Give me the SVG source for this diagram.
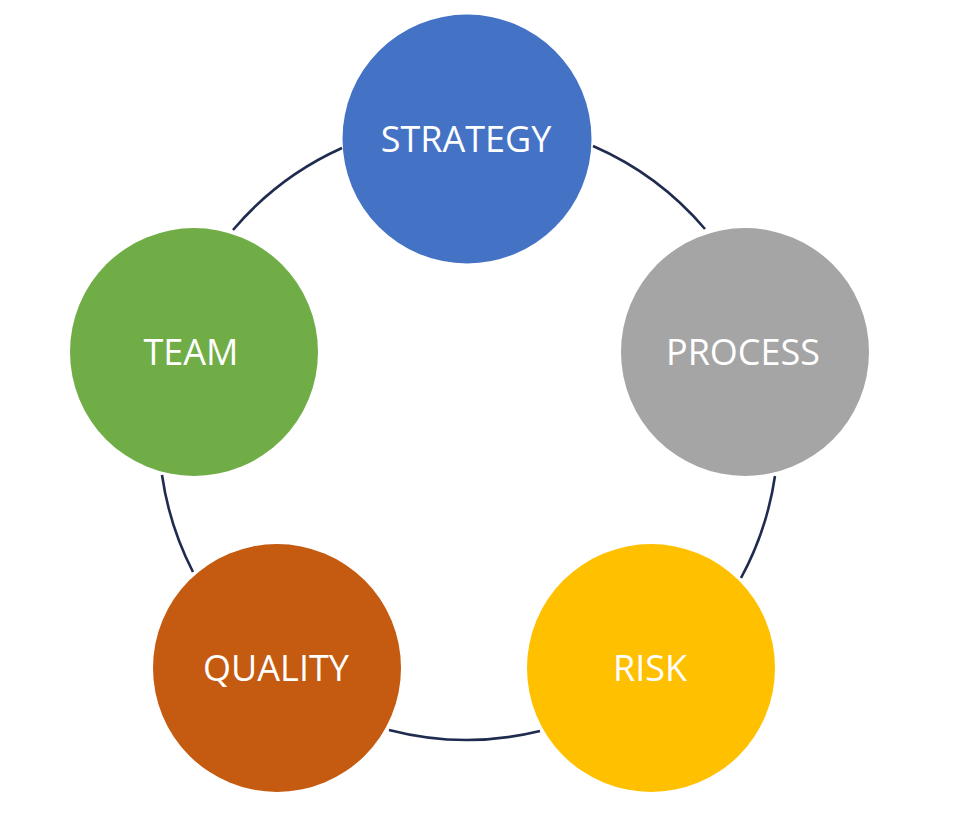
<svg xmlns="http://www.w3.org/2000/svg" width="955" height="815" viewBox="0 0 955 815">
<style>
.arc{fill:none;stroke:#1f2c4f;stroke-width:2.6;}
.lbl{font-family:"Open Sans","Liberation Sans",sans-serif;font-size:36px;fill:#ffffff;text-anchor:middle;}
</style>
<rect width="955" height="815" fill="#ffffff"/>
<g id="connectors">
<path class="arc" d="M 775 476 A 308 308 0 0 1 741 578"/>
<path class="arc" d="M 540 731 A 308 308 0 0 1 389 730"/>
<path class="arc" d="M 193 572 A 308 308 0 0 1 162 475"/>
<path class="arc" d="M 233 230 A 308 308 0 0 1 342 148"/>
<path class="arc" d="M 593 146 A 308 308 0 0 1 705 229"/>
</g>
<g id="strategy">
<circle cx="467" cy="139" r="124.5" fill="#4472c4"/>
<text class="lbl" x="466" y="152">STRATEGY</text>
</g>
<g id="process">
<circle cx="745" cy="352" r="124" fill="#a5a5a5"/>
<text class="lbl" x="743" y="365">PROCESS</text>
</g>
<g id="risk">
<circle cx="651" cy="668" r="124" fill="#ffc000"/>
<text class="lbl" x="650" y="681">RISK</text>
</g>
<g id="quality">
<circle cx="277" cy="668" r="124" fill="#c55a11"/>
<text class="lbl" x="276" y="681">QUALITY</text>
</g>
<g id="team">
<circle cx="194" cy="352" r="124" fill="#70ad47"/>
<text class="lbl" x="191" y="365">TEAM</text>
</g>
</svg>
